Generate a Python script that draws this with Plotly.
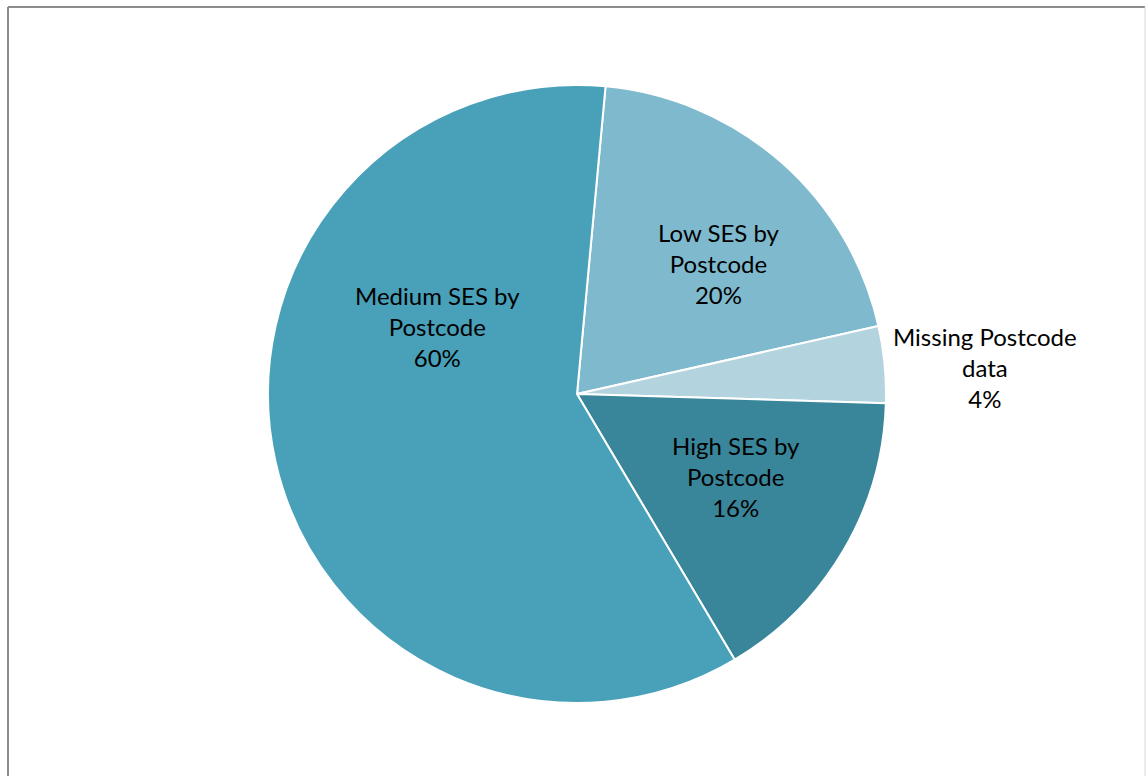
import plotly.graph_objects as go

# Share of records by postcode socio-economic status
categories = ["Low SES by Postcode", "Missing Postcode data", "High SES by Postcode", "Medium SES by Postcode"]
label_lines = [["Low SES by", "Postcode"], ["Missing Postcode", "data"], ["High SES by", "Postcode"], ["Medium SES by", "Postcode"]]
percent_values = [20, 4, 16, 60]

colors = ["#7FB9CE", "#B3D3DE", "#39869A", "#48A1B9"]

W, H = 1146, 776
cx, cy, r = 577, 394, 309

fig = go.Figure(
    go.Pie(
        labels=categories,
        values=percent_values,
        sort=False,
        direction="clockwise",
        rotation=5.3,
        marker=dict(colors=colors, line=dict(color="#FFFFFF", width=2)),
        textinfo="none",
        hoverinfo="label+percent",
        showlegend=False,
        domain=dict(x=[(cx - r) / W, (cx + r) / W], y=[1 - (cy + r) / H, 1 - (cy - r) / H]),
    )
)

# label anchor points (pixel centres of each text block)
label_pos = [(719, 263), (985, 367), (736, 476), (437, 326)]
for lines, pct, (lx, ly) in zip(label_lines, percent_values, label_pos):
    fig.add_annotation(
        x=lx / W, y=1 - ly / H, xref="paper", yref="paper",
        text="<br>".join(lines + [f"{pct}%"]),
        showarrow=False, align="center", xanchor="center", yanchor="middle",
        font=dict(family="Lato, Open Sans, sans-serif", size=24, color="#000000"),
    )

# chart frame
fig.add_shape(type="line", xref="paper", yref="paper", x0=8 / W, x1=8 / W, y0=0, y1=1 - 7 / H,
              line=dict(color="#8C8C8C", width=2))
fig.add_shape(type="line", xref="paper", yref="paper", x0=8 / W, x1=1145 / W, y0=1 - 7 / H, y1=1 - 7 / H,
              line=dict(color="#8C8C8C", width=2))
fig.add_shape(type="line", xref="paper", yref="paper", x0=1145 / W, x1=1145 / W, y0=0, y1=1 - 7 / H,
              line=dict(color="#D9D9D9", width=1))

fig.update_layout(
    width=W, height=H,
    margin=dict(l=0, r=0, t=0, b=0),
    paper_bgcolor="#FFFFFF",
    plot_bgcolor="#FFFFFF",
)

fig.write_html("out.html")
